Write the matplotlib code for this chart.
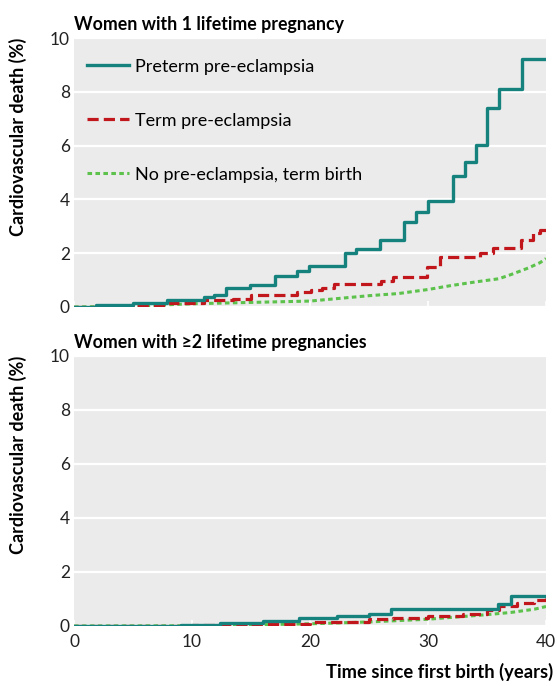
"""
    Cumulative cardiovascular death by pregnancy history,
    two stacked panels (1 pregnancy / >=2 pregnancies).
"""

import numpy as np
import matplotlib
matplotlib.use("Agg")
import matplotlib.pyplot as plt

plt.rcParams['font.family'] = ['Lato', 'DejaVu Sans']

# Panel 1: women with 1 lifetime pregnancy.
pre1_t = [0, 1.9, 5.0, 7.9, 11.0, 11.9, 12.9, 14.9, 17.0, 18.9, 19.9, 23.0, 23.9,
          25.9, 28.0, 29.0, 30.0, 32.1, 33.1, 34.1, 35.0, 36.0, 38.0, 40]
pre1_v = [0, 0.06, 0.15, 0.27, 0.36, 0.46, 0.71, 0.83, 1.16, 1.35, 1.51, 2.0, 2.16,
          2.48, 3.16, 3.53, 3.93, 4.86, 5.39, 6.01, 7.39, 8.1, 9.22, 9.22]
term1_t = [0, 3, 5, 8, 11, 13.5, 15, 18.9, 20.1, 21, 22, 26, 27, 29.9, 31, 34.4,
           35.5, 37.9, 38.9, 39.5, 40]
term1_v = [0, 0.03, 0.08, 0.15, 0.25, 0.28, 0.43, 0.55, 0.62, 0.72, 0.87, 0.98,
           1.12, 1.5, 1.85, 2.0, 2.2, 2.5, 2.75, 2.85, 2.85]
none1_t = [0, 5, 10, 15, 20, 22, 25, 27.5, 30, 32, 34, 36, 37, 38.5, 39.5, 40]
none1_v = [0, 0.03, 0.12, 0.17, 0.22, 0.3, 0.42, 0.5, 0.65, 0.8, 0.93, 1.05,
           1.2, 1.45, 1.65, 1.8]

# Panel 2: women with >=2 lifetime pregnancies.
pre2_t = [0, 9.1, 12.4, 16.0, 19.1, 22.3, 25.0, 26.9, 35.9, 37.0, 40]
pre2_v = [0, 0.03, 0.1, 0.2, 0.28, 0.36, 0.45, 0.63, 0.8, 1.1, 1.1]
term2_t = [0, 10, 15, 20, 25, 27, 30, 33, 35, 36, 37.5, 39, 40]
term2_v = [0, 0.03, 0.08, 0.15, 0.25, 0.3, 0.37, 0.45, 0.6, 0.75, 0.85, 0.95, 1.05]
none2_t = [0, 12, 15, 20, 25, 30, 35, 37, 39, 40]
none2_v = [0, 0.01, 0.04, 0.08, 0.15, 0.25, 0.42, 0.5, 0.62, 0.72]

labels = ['Preterm pre-eclampsia', 'Term pre-eclampsia', 'No pre-eclampsia, term birth']
titles = ['Women with 1 lifetime pregnancy', 'Women with \u22652 lifetime pregnancies']

teal = '#15827e'
red = '#c2161d'
green = '#5cc24c'

fig = plt.figure(figsize=(5.57, 6.86), dpi=100)
ax1 = fig.add_axes([0.1329, 0.5525, 0.8474, 0.3921])
ax2 = fig.add_axes([0.1329, 0.0875, 0.8474, 0.3936])

panels = [
    (ax1, (pre1_t, pre1_v), (term1_t, term1_v), (none1_t, none1_v)),
    (ax2, (pre2_t, pre2_v), (term2_t, term2_v), (none2_t, none2_v)),
]

for i, (ax, pre, term, none) in enumerate(panels):
    ax.set_facecolor('#ebebeb')
    ax.step(pre[0], pre[1], where='post', color=teal, lw=2.4, label=labels[0], zorder=4)
    ax.step(term[0], term[1], where='post', color=red, lw=2.3,
            dashes=(3.5, 1.6), label=labels[1], zorder=3)
    ax.plot(none[0], none[1], color=green, lw=2.2,
            dashes=(1.5, 1.1), label=labels[2], zorder=2)
    ax.set_xlim(0, 40)
    ax.set_ylim(0, 10)
    ax.set_yticks([0, 2, 4, 6, 8, 10])
    ax.set_xticks([0, 10, 20, 30, 40])
    ax.grid(axis='y', color='white', lw=1.6)
    ax.set_axisbelow(True)
    for s in ax.spines.values():
        s.set_visible(False)
    ax.tick_params(axis='y', length=0, pad=3, labelsize=12.5, labelcolor='#222222')
    ax.tick_params(axis='x', direction='in', length=4, width=1.2, color='white',
                   labelsize=12.5, labelcolor='#222222', pad=6)
    ax.set_ylabel('Cardiovascular death (%)', fontsize=13.0, fontweight='bold', loc='top')
    ax.yaxis.set_label_coords(-0.1, 1.0)
    ax.set_title(titles[i], loc='left', fontsize=12.8, fontweight='bold', pad=6)

ax1.tick_params(axis='x', labelbottom=False)

leg = ax1.legend(loc='upper left', bbox_to_anchor=(-0.0106, 0.99), frameon=False,
                 fontsize=13, handlelength=2.3, handletextpad=0.35,
                 labelspacing=2.1, borderaxespad=0.6)

fig.text(0.993, 0.008, 'Time since first birth (years)', ha='right', va='bottom',
         fontsize=13.2, fontweight='bold')

plt.savefig('out.png', dpi=100)
plt.close()
